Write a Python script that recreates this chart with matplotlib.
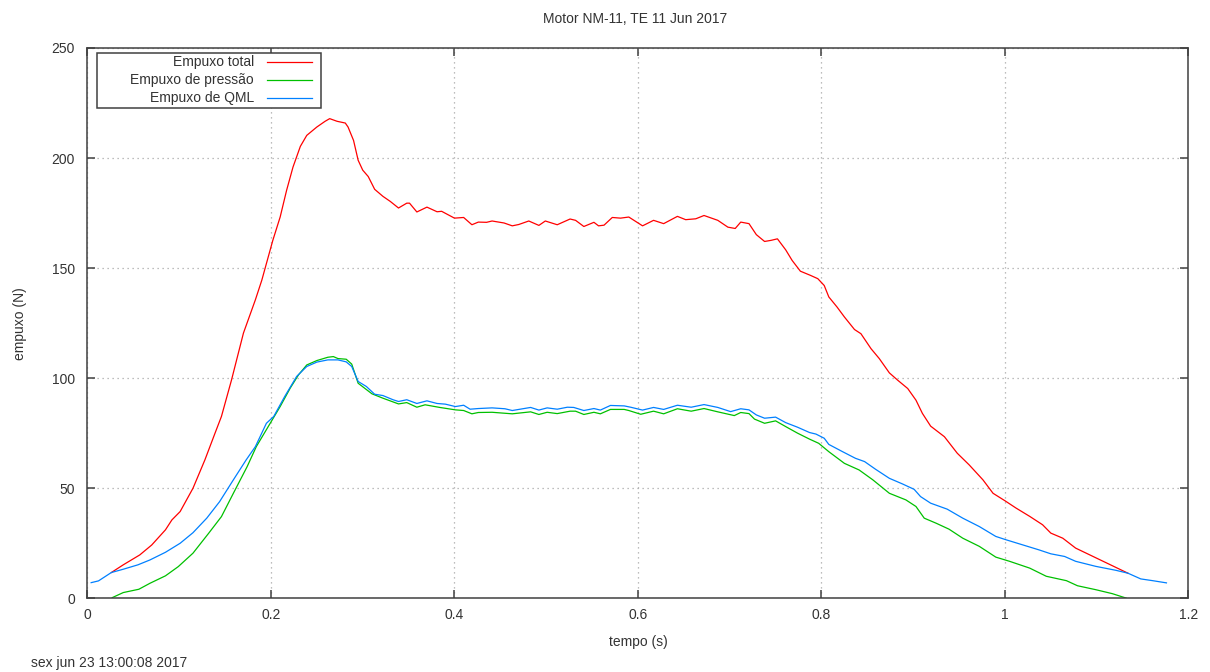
import matplotlib
matplotlib.use("Agg")
import matplotlib.pyplot as plt
from matplotlib.patches import Rectangle
from matplotlib.lines import Line2D

# ---- measured thrust curves, motor NM-11 ----
t_total = [0.026, 0.039, 0.057, 0.070, 0.085, 0.092, 0.101, 0.115, 0.128, 0.139,
           0.146, 0.157, 0.170, 0.183, 0.190, 0.202, 0.210, 0.217, 0.224, 0.232,
           0.239, 0.250, 0.259, 0.264, 0.272, 0.281, 0.284, 0.290, 0.295, 0.300,
           0.306, 0.313, 0.322, 0.330, 0.339, 0.348, 0.351, 0.359, 0.370, 0.381,
           0.386, 0.400, 0.410, 0.419, 0.426, 0.435, 0.441, 0.454, 0.463, 0.470,
           0.481, 0.492, 0.499, 0.512, 0.526, 0.532, 0.541, 0.552, 0.557, 0.563,
           0.572, 0.581, 0.590, 0.605, 0.617, 0.628, 0.643, 0.652, 0.663, 0.672,
           0.687, 0.698, 0.706, 0.712, 0.721, 0.729, 0.738, 0.745, 0.752, 0.761,
           0.768, 0.777, 0.788, 0.796, 0.803, 0.808, 0.817, 0.825, 0.836, 0.843,
           0.854, 0.863, 0.874, 0.883, 0.894, 0.903, 0.910, 0.919, 0.934, 0.948,
           0.961, 0.976, 0.987, 1.000, 1.012, 1.027, 1.041, 1.050, 1.063, 1.077,
           1.092, 1.107, 1.121, 1.134]
f_total = [11.7, 15.2, 19.7, 24.2, 31.1, 35.6, 39.4, 50.0, 62.9, 75.0,
           82.6, 99.2, 120.5, 135.6, 144.5, 162.6, 173.2, 185.3, 195.9, 205.3,
           210.3, 214.1, 216.7, 217.9, 216.7, 215.9, 214.1, 208.0, 199.0, 194.5,
           191.6, 185.8, 182.6, 180.3, 177.3, 179.5, 179.5, 175.5, 177.7, 175.6,
           175.8, 172.7, 173.0, 169.7, 170.9, 170.8, 171.4, 170.5, 169.2, 169.8,
           171.4, 169.4, 171.4, 169.7, 172.3, 171.7, 168.9, 170.8, 169.2, 169.5,
           173.0, 172.7, 173.2, 169.2, 171.7, 170.2, 173.5, 172.0, 172.4, 173.9,
           171.7, 168.6, 168.0, 170.9, 170.2, 165.2, 162.1, 162.6, 163.3, 158.3,
           153.5, 148.6, 146.7, 145.2, 142.1, 136.9, 132.3, 127.8, 122.1, 120.2,
           113.4, 108.9, 102.4, 99.1, 95.3, 90.0, 84.0, 78.2, 73.4, 65.9,
           60.6, 53.8, 47.7, 44.3, 41.0, 37.2, 33.4, 29.6, 27.3, 22.8,
           19.8, 16.8, 14.0, 11.4]

t_pressao = [0.027, 0.039, 0.056, 0.068, 0.085, 0.099, 0.115, 0.132, 0.146, 0.159,
             0.174, 0.184, 0.197, 0.210, 0.221, 0.230, 0.239, 0.250, 0.262, 0.268,
             0.273, 0.282, 0.288, 0.295, 0.310, 0.322, 0.339, 0.348, 0.359, 0.368,
             0.384, 0.401, 0.410, 0.419, 0.426, 0.441, 0.463, 0.483, 0.492, 0.501,
             0.512, 0.526, 0.532, 0.541, 0.552, 0.559, 0.570, 0.585, 0.590, 0.603,
             0.617, 0.628, 0.643, 0.658, 0.672, 0.687, 0.705, 0.712, 0.721, 0.727,
             0.738, 0.750, 0.761, 0.774, 0.787, 0.797, 0.808, 0.825, 0.841, 0.856,
             0.874, 0.892, 0.903, 0.912, 0.925, 0.939, 0.954, 0.972, 0.990, 1.005,
             1.027, 1.045, 1.067, 1.079, 1.099, 1.117, 1.132]
f_pressao = [0.3, 2.6, 4.1, 6.8, 10.2, 14.4, 20.5, 29.5, 37.1, 47.7,
             59.8, 68.9, 78.0, 87.1, 95.5, 101.5, 106.0, 108.0, 109.5, 109.8,
             108.9, 108.6, 106.4, 97.7, 92.9, 90.9, 88.3, 88.9, 86.8, 87.9,
             86.7, 85.6, 85.3, 83.8, 84.4, 84.5, 83.8, 84.7, 83.5, 84.5,
             83.9, 85.0, 85.0, 83.5, 84.5, 83.8, 85.8, 85.8, 85.3, 83.6,
             85.0, 83.8, 86.1, 85.0, 86.2, 84.7, 83.0, 84.4, 83.9, 81.4,
             79.5, 80.6, 78.0, 75.0, 72.3, 70.4, 66.6, 61.3, 58.3, 53.8,
             47.7, 44.7, 41.7, 36.4, 34.1, 31.4, 27.3, 23.6, 18.7, 16.8,
             13.7, 10.0, 8.0, 5.7, 3.9, 2.1, 0.1]

t_qml = [0.004, 0.012, 0.019, 0.026, 0.039, 0.055, 0.068, 0.085, 0.101, 0.115,
         0.130, 0.144, 0.159, 0.173, 0.183, 0.195, 0.203, 0.215, 0.228, 0.239,
         0.250, 0.262, 0.273, 0.282, 0.288, 0.295, 0.304, 0.313, 0.322, 0.333,
         0.339, 0.348, 0.359, 0.370, 0.381, 0.390, 0.401, 0.410, 0.417, 0.426,
         0.441, 0.455, 0.463, 0.483, 0.492, 0.501, 0.512, 0.523, 0.530, 0.541,
         0.552, 0.559, 0.570, 0.585, 0.592, 0.605, 0.617, 0.628, 0.643, 0.658,
         0.672, 0.687, 0.701, 0.712, 0.721, 0.729, 0.738, 0.750, 0.761, 0.774,
         0.787, 0.794, 0.803, 0.808, 0.823, 0.837, 0.847, 0.859, 0.874, 0.888,
         0.901, 0.908, 0.919, 0.937, 0.954, 0.972, 0.990, 1.001, 1.019, 1.037,
         1.050, 1.065, 1.077, 1.099, 1.121, 1.134, 1.148, 1.161, 1.176]
f_qml = [7.1, 7.9, 9.8, 11.7, 13.2, 15.2, 17.4, 20.9, 25.0, 29.8,
         36.4, 43.9, 53.8, 62.9, 68.9, 79.5, 82.6, 91.7, 100.8, 105.3,
         107.3, 108.3, 108.3, 107.4, 105.3, 98.5, 96.2, 92.7, 92.1, 90.2,
         89.4, 90.2, 88.5, 89.7, 88.5, 88.2, 87.1, 87.7, 85.9, 86.2,
         86.5, 86.1, 85.3, 86.7, 85.5, 86.5, 85.9, 86.8, 86.7, 85.3,
         86.2, 85.5, 87.6, 87.4, 86.8, 85.5, 86.7, 85.8, 87.7, 86.8,
         88.0, 86.7, 84.8, 86.1, 85.6, 83.3, 81.8, 82.3, 79.8, 77.7,
         75.3, 74.6, 72.7, 69.9, 66.6, 63.6, 62.1, 58.6, 54.5, 52.0,
         49.5, 46.2, 43.2, 40.5, 36.4, 32.6, 28.1, 26.6, 24.3, 22.0,
         20.2, 19.0, 16.8, 14.5, 12.7, 11.4, 8.8, 8.0, 7.0]

series_labels = ["Empuxo total", "Empuxo de pressão", "Empuxo de QML"]
series_colors = ["#ff0000", "#00c000", "#0080ff"]
x_ticks = [0, 0.2, 0.4, 0.6, 0.8, 1, 1.2]
x_ticklabels = ["0", "0.2", "0.4", "0.6", "0.8", "1", "1.2"]
y_ticks = [0, 50, 100, 150, 200, 250]

title_text = "Motor NM-11, TE 11 Jun 2017"
x_label = "tempo (s)"
y_label = "empuxo (N)"
timestamp = "sex jun 23 13:00:08 2017"

# ---- styling ----
plt.rcParams["font.family"] = ["Liberation Sans", "DejaVu Sans"]
TXT = "#333333"
AX = "#404040"
FS = 10

fig = plt.figure(figsize=(12.10, 6.72), dpi=100)
ax = fig.add_axes([0.0723, 0.1097, 0.9099, 0.8189])

for t, f, lab, col in zip([t_total, t_pressao, t_qml],
                          [f_total, f_pressao, f_qml],
                          series_labels, series_colors):
    ax.plot(t, f, color=col, lw=0.9, label=lab)

ax.set_xlim(0, 1.2)
ax.set_ylim(0, 250)
ax.set_xticks(x_ticks)
ax.set_xticklabels(x_ticklabels)
ax.set_yticks(y_ticks)

ax.grid(True, color="#a8a8a8", linestyle=(0, (1, 3)), linewidth=0.9)
ax.set_axisbelow(True)

for sp in ax.spines.values():
    sp.set_color(AX)
    sp.set_linewidth(1.1)

ax.tick_params(direction="in", length=6, width=1.1, color=AX,
               top=True, right=True, labelsize=FS, labelcolor=TXT, pad=7)
ax.tick_params(axis="y", pad=9)

ax.set_xlabel(x_label, fontsize=FS, color=TXT, labelpad=9)
ax.set_ylabel(y_label, fontsize=FS, color=TXT, labelpad=18)
fig.text(0.525, 0.972, title_text, ha="center", va="center", fontsize=FS, color=TXT)
fig.text(0.026, 0.0135, timestamp, ha="left", va="center", fontsize=FS, color=TXT)

# legend: right-aligned labels followed by line samples, framed
ax.add_patch(Rectangle((0.0089, 0.8915), 0.2032, 0.0989, transform=ax.transAxes,
                       facecolor="white", edgecolor=AX, linewidth=1.1, zorder=5))
rows = [0.975, 0.9418, 0.9086]
for yy, lab, col in zip(rows, series_labels, series_colors):
    ax.text(0.1512, yy, lab, transform=ax.transAxes, ha="right", va="center",
            fontsize=FS, color=TXT, zorder=6)
    ax.add_line(Line2D([0.163, 0.204], [yy, yy], transform=ax.transAxes,
                       color=col, lw=0.9, zorder=6))

fig.savefig("out.png", dpi=100, facecolor="white")
